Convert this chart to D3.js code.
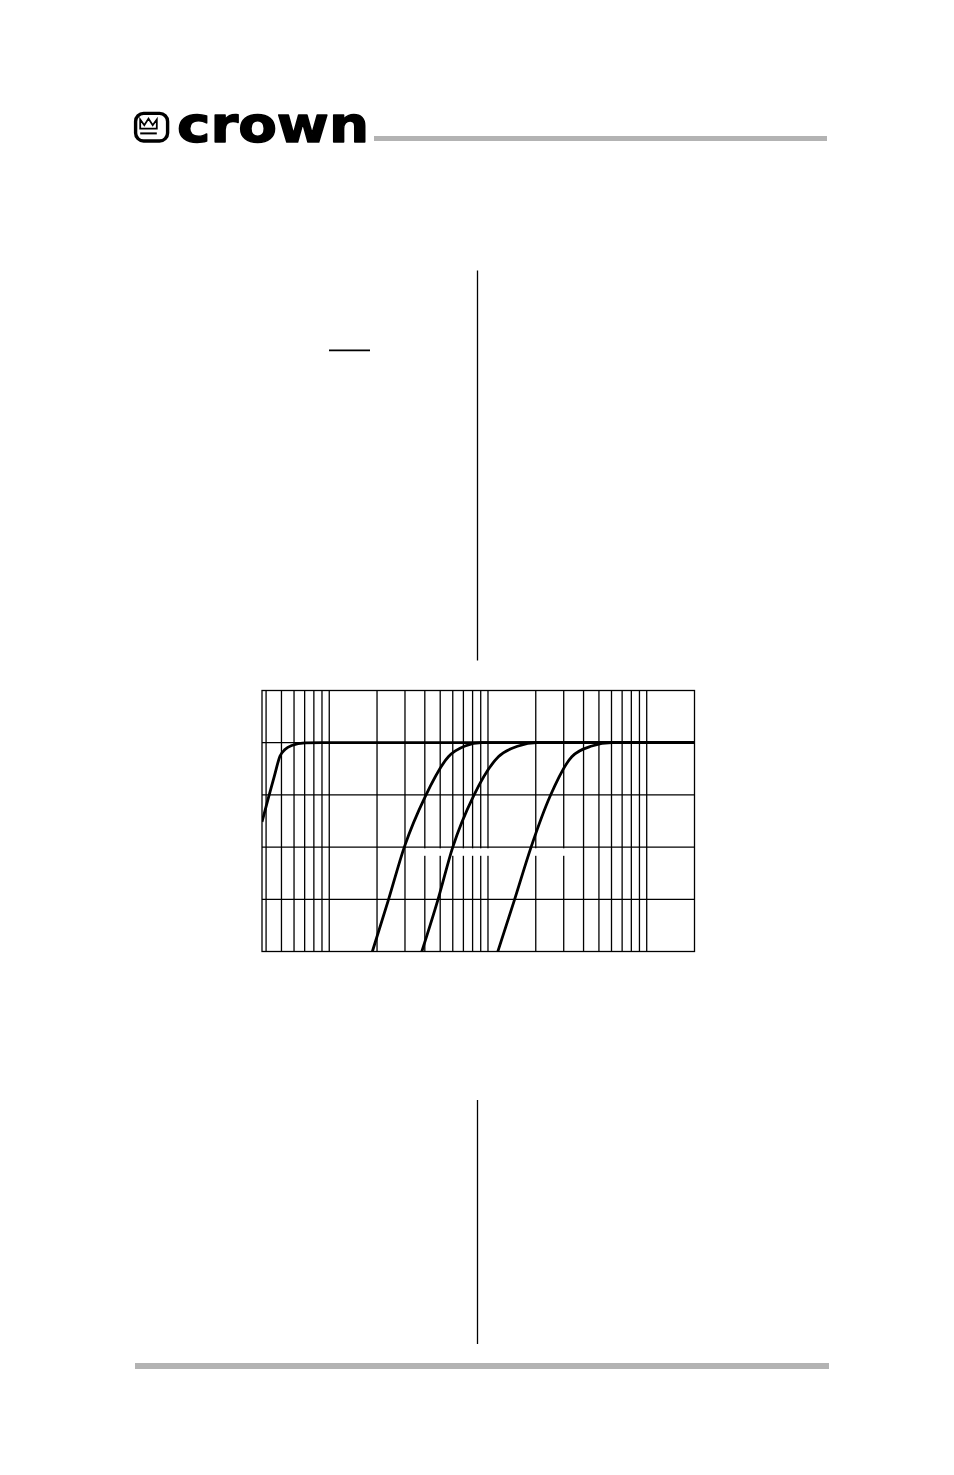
<!DOCTYPE html>
<html>
<head>
<meta charset="utf-8">
<script src="https://cdn.jsdelivr.net/npm/d3@7"></script>
<style>
html,body{margin:0;padding:0;background:#fff;}
svg{display:block;}
</style>
</head>
<body>
<svg id="page" width="954" height="1475"></svg>
<script>
// ---- data ----
const freqDomain = [37.7, 20000];          // Hz, log axis
const dbDomain = [6, -24];                 // dB, top to bottom
const gridFreqs = [40, 50, 60, 70, 80, 90, 100,
                   200, 300, 400, 500, 600, 700, 800, 900, 1000,
                   2000, 3000, 4000, 5000, 6000, 7000, 8000, 9000, 10000];
const gridDb = [0, -6, -12, -18];
const brandName = "crown";

// response curves: [frequency Hz, level dB]
const curveA = [[37.7, -9.1], [41.6, -6.16], [45.1, -3.84], [48.96, -1.53], [52.6, -0.78], [58.0, -0.32], [70.4, -0.03], [90, 0], [20000, 0]];
const curveB = [[186.9, -24], [235.7, -18.1], [297, -12.0], [403, -6.16], [563, -1.61], [717, -0.38], [914, 0], [20000, 0]];
const curveC = [[383, -24], [483, -18.1], [600, -12.0], [809, -6.16], [1163, -1.61], [1555, -0.38], [2030, 0], [20000, 0]];
const curveD = [[1153, -24], [1467, -18.1], [1869, -12.0], [2461, -6.16], [3373, -1.61], [4510, -0.38], [6030, 0], [20000, 0]];
const curves = [curveA, curveB, curveC, curveD];

// ---- drawing ----
const svg = d3.select("#page");

// header: logo + gray rule
const logo = svg.append("g");
logo.append("rect")
  .attr("x", 135.6).attr("y", 113.4).attr("width", 32).attr("height", 27.6)
  .attr("rx", 8).attr("ry", 8)
  .attr("fill", "none").attr("stroke", "#000").attr("stroke-width", 3.4);
logo.append("path")
  .attr("d", "M140.2,119.5 L144.3,125.2 L148.5,118.6 L152.7,125.2 L156.8,119.5 L156.8,128.6 L140.2,128.6 Z")
  .attr("fill", "none").attr("stroke", "#000").attr("stroke-width", 1.8).attr("stroke-linejoin", "miter");
logo.append("line")
  .attr("x1", 140.2).attr("x2", 156.8).attr("y1", 133.4).attr("y2", 133.4)
  .attr("stroke", "#000").attr("stroke-width", 2);
logo.append("text")
  .attr("x", 177).attr("y", 141.8)
  .attr("font-family", "DejaVu Sans, sans-serif")
  .attr("font-weight", "bold")
  .attr("font-size", 50)
  .attr("textLength", 192).attr("lengthAdjust", "spacingAndGlyphs")
  .attr("fill", "#000").attr("stroke", "#000").attr("stroke-width", 1.4)
  .attr("stroke-linejoin", "round")
  .text(brandName);

svg.append("rect").attr("x", 374).attr("y", 136).attr("width", 453).attr("height", 5).attr("fill", "#b3b3b3");
svg.append("rect").attr("x", 135).attr("y", 1363).attr("width", 694).attr("height", 6).attr("fill", "#b3b3b3");

// column dividers and small rule
svg.append("line").attr("x1", 477.5).attr("x2", 477.5).attr("y1", 270.5).attr("y2", 660.5)
  .attr("stroke", "#000").attr("stroke-width", 1.3);
svg.append("line").attr("x1", 477.5).attr("x2", 477.5).attr("y1", 1100).attr("y2", 1344)
  .attr("stroke", "#000").attr("stroke-width", 1.3);
svg.append("line").attr("x1", 329).attr("x2", 370).attr("y1", 350.3).attr("y2", 350.3)
  .attr("stroke", "#000").attr("stroke-width", 1.7);

// chart
const pLeft = 262, pRight = 694.5, pTop = 690.5, pBottom = 951.5;
const x = d3.scaleLog().domain(freqDomain).range([pLeft, pRight]);
const y = d3.scaleLinear().domain(dbDomain).range([pTop, pBottom]);

const chart = svg.append("g");
chart.append("defs").append("clipPath").attr("id", "plotclip")
  .append("rect").attr("x", pLeft).attr("y", pTop).attr("width", pRight - pLeft).attr("height", pBottom - pTop);

// vertical grid (log frequencies)
chart.append("g").selectAll("line").data(gridFreqs).join("line")
  .attr("x1", d => x(d)).attr("x2", d => x(d))
  .attr("y1", pTop).attr("y2", pBottom)
  .attr("stroke", "#000").attr("stroke-width", 1.3);
// horizontal grid
chart.append("g").selectAll("line").data(gridDb).join("line")
  .attr("x1", pLeft).attr("x2", pRight)
  .attr("y1", d => y(d)).attr("y2", d => y(d))
  .attr("stroke", "#000").attr("stroke-width", 1.3);
// knocked-out label area (blank label background)
chart.append("rect")
  .attr("x", x(350)).attr("width", x(3300) - x(350))
  .attr("y", y(-12) + 1.2).attr("height", 7.5)
  .attr("fill", "#fff");
// frame
chart.append("rect")
  .attr("x", pLeft).attr("y", pTop).attr("width", pRight - pLeft).attr("height", pBottom - pTop)
  .attr("fill", "none").attr("stroke", "#000").attr("stroke-width", 1.3);

const line = d3.line().x(d => x(d[0])).y(d => y(d[1])).curve(d3.curveMonotoneX);
chart.append("g").attr("clip-path", "url(#plotclip)")
  .selectAll("path").data(curves).join("path")
  .attr("d", line)
  .attr("fill", "none").attr("stroke", "#000").attr("stroke-width", 2.8)
  .attr("stroke-linejoin", "round");
</script>
</body>
</html>
